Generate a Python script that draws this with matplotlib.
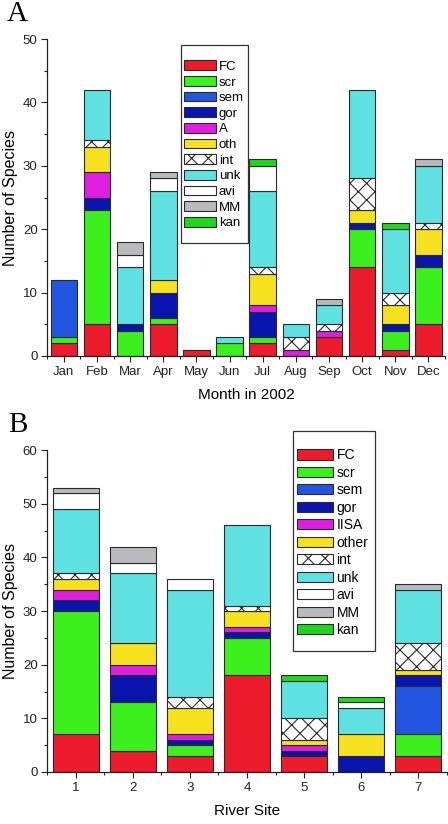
import numpy as np
import matplotlib
matplotlib.use("Agg")
import matplotlib.pyplot as plt
from matplotlib.ticker import MultipleLocator
from matplotlib.patches import Rectangle

plt.rcParams['font.family'] = ['Liberation Sans', 'DejaVu Sans']
plt.rcParams['hatch.linewidth'] = 0.8

# ---------------- Data ----------------
months = ["Jan", "Feb", "Mar", "Apr", "May", "Jun", "Jul", "Aug", "Sep", "Oct", "Nov", "Dec"]
series_a = ["FC", "scr", "sem", "gor", "A", "oth", "int", "unk", "avi", "MM", "kan"]
a_FC  = [2, 5, 0, 5, 1, 0, 2, 0, 3, 14, 1, 5]
a_scr = [1, 18, 4, 1, 0, 2, 1, 0, 0, 6, 3, 9]
a_sem = [9, 0, 0, 0, 0, 0, 0, 0, 0, 0, 0, 0]
a_gor = [0, 2, 1, 4, 0, 0, 4, 0, 0, 1, 1, 2]
a_A   = [0, 4, 0, 0, 0, 0, 1, 1, 1, 0, 0, 0]
a_oth = [0, 4, 0, 2, 0, 0, 5, 0, 0, 2, 3, 4]
a_int = [0, 1, 0, 0, 0, 0, 1, 2, 1, 5, 2, 1]
a_unk = [0, 8, 9, 14, 0, 1, 12, 2, 3, 14, 10, 9]
a_avi = [0, 0, 2, 2, 0, 0, 4, 0, 0, 0, 0, 0]
a_MM  = [0, 0, 2, 1, 0, 0, 0, 0, 1, 0, 0, 1]
a_kan = [0, 0, 0, 0, 0, 0, 1, 0, 0, 0, 1, 0]

sites = ["1", "2", "3", "4", "5", "6", "7"]
series_b = ["FC", "scr", "sem", "gor", "IISA", "other", "int", "unk", "avi", "MM", "kan"]
b_FC    = [7, 4, 3, 18, 3, 0, 3]
b_scr   = [23, 9, 2, 7, 0, 0, 4]
b_sem   = [0, 0, 0, 0, 0, 0, 9]
b_gor   = [2, 5, 1, 1, 1, 3, 2]
b_IISA  = [2, 2, 1, 1, 1, 0, 0]
b_other = [2, 4, 5, 3, 1, 4, 1]
b_int   = [1, 0, 2, 1, 4, 0, 5]
b_unk   = [12, 13, 20, 15, 7, 5, 10]
b_avi   = [3, 2, 2, 0, 0, 1, 0]
b_MM    = [1, 3, 0, 0, 0, 0, 1]
b_kan   = [0, 0, 0, 0, 1, 1, 0]

colors = ["#ec1c2c", "#3cf01e", "#2356e0", "#0a14af", "#e01ee0", "#f5e11e",
          "#ffffff", "#5fe1e1", "#ffffff", "#b9b9be", "#1ed71e"]
hatches = [None, None, None, None, None, None, "xx", None, None, None, None]

W, H = 448, 824
fig = plt.figure(figsize=(W / 100, H / 100), dpi=100)

def px_axes(left, top, right, bottom):
    return fig.add_axes([left / W, 1 - bottom / H, (right - left) / W, (bottom - top) / H])

def frame_box(left, top, right, bottom):
    r = Rectangle((left / W, 1 - bottom / H), (right - left) / W, (bottom - top) / H,
                  transform=fig.transFigure, facecolor="white", edgecolor="#333333",
                  linewidth=0.9, zorder=2)
    fig.add_artist(r)

def draw_panel(ax, cats, data, names, ymax, xlabel):
    x = np.arange(1, len(cats) + 1)
    bottom = np.zeros(len(cats))
    handles = []
    for vals, name, c, h in zip(data, names, colors, hatches):
        v = np.array(vals, dtype=float)
        m = v > 0
        bc = ax.bar(x[m], v[m], bottom=bottom[m], width=0.8, color=c,
                    edgecolor="#2a2a2a", linewidth=0.8, hatch=h, label=name)
        handles.append(bc)
        bottom += v
    ax.set_xlim(0.5, len(cats) + 0.5)
    ax.set_ylim(0, ymax)
    ax.set_xticks(x)
    ax.set_xticklabels(cats)
    ax.set_xticks(np.arange(0.5, len(cats) + 1, 1), minor=True)
    ax.yaxis.set_major_locator(MultipleLocator(10))
    ax.yaxis.set_minor_locator(MultipleLocator(5))
    for s in ["top", "right"]:
        ax.spines[s].set_visible(False)
    for s in ["left", "bottom"]:
        ax.spines[s].set_linewidth(0.9)
        ax.spines[s].set_color("#222222")
    ax.tick_params(which="major", direction="out", length=4, width=0.8,
                   labelsize=9.5, pad=3, colors="#222222")
    ax.tick_params(which="minor", direction="out", length=2.5, width=0.8, colors="#222222")
    ax.set_ylabel("Number of Species", fontsize=11.5)
    ax.set_xlabel(xlabel, fontsize=11)
    return handles

# Panel A
axA = px_axes(47.3, 39, 445, 356)
hA = draw_panel(axA, months,
                [a_FC, a_scr, a_sem, a_gor, a_A, a_oth, a_int, a_unk, a_avi, a_MM, a_kan],
                series_a, 50, "Month in 2002")
axA.yaxis.set_label_coords(-0.0737, 0.5)
axA.xaxis.set_label_coords(0.5, -0.102)
frame_box(180.7, 45, 248.3, 243)
legA = fig.legend(handles=hA, loc="upper left", bbox_to_anchor=(184 / W, 1 - 60.5 / H),
                  bbox_transform=fig.transFigure, fontsize=9.5, frameon=False,
                  borderaxespad=0, borderpad=0, handlelength=2.4,
                  handleheight=0.75, handletextpad=0.25, labelspacing=0.243)
legA.set_zorder(5)

# Panel B
axB = px_axes(47.3, 450, 446.7, 772)
hB = draw_panel(axB, sites,
                [b_FC, b_scr, b_sem, b_gor, b_IISA, b_other, b_int, b_unk, b_avi, b_MM, b_kan],
                series_b, 60, "River Site")
axB.yaxis.set_label_coords(-0.0734, 0.5)
axB.xaxis.set_label_coords(0.5, -0.1)
frame_box(293, 431, 375, 651)
legB = fig.legend(handles=hB, loc="upper left", bbox_to_anchor=(297 / W, 1 - 448.3 / H),
                  bbox_transform=fig.transFigure, fontsize=10, frameon=False,
                  borderaxespad=0, borderpad=0, handlelength=2.59,
                  handleheight=0.75, handletextpad=0.25, labelspacing=0.25)
legB.set_zorder(5)

fig.text(17 / W, 1 - 14 / H, "A", family="Liberation Serif", fontsize=21, ha="center", va="center")
fig.text(18 / W, 1 - 425 / H, "B", family="Liberation Serif", fontsize=21, ha="center", va="center")

fig.savefig("out.png", dpi=100)
